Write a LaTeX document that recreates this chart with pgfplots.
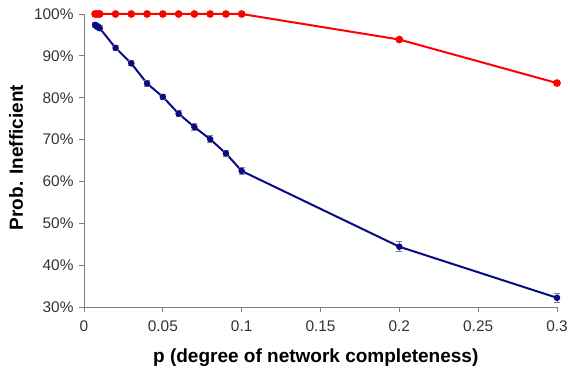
\documentclass[border=0pt]{standalone}
\usepackage{pgfplots}
\pgfplotsset{compat=1.18}
\usepackage{fontspec}
\setmainfont{Liberation Sans}
\definecolor{myred}{RGB}{255,0,0}
\definecolor{myblue}{RGB}{10,10,135}
\definecolor{axgray}{RGB}{128,128,128}
\begin{document}
\begin{tikzpicture}
\begin{axis}[
  scale only axis,
  width=473pt, height=293pt,
  xmin=0, xmax=0.3, ymin=30, ymax=100,
  axis x line*=bottom, axis y line*=left,
  axis line style={axgray, line width=0.9pt, -},
  tick style={axgray, line width=0.9pt},
  tick align=outside,
  major tick length=5pt,
  xtick={0,0.05,0.1,0.15,0.2,0.25,0.3},
  xticklabels={0,0.05,0.1,0.15,0.2,0.25,0.3},
  ytick={30,40,50,60,70,80,90,100},
  yticklabels={30\%,40\%,50\%,60\%,70\%,80\%,90\%,100\%},
  ticklabel style={font=\fontsize{15.4}{17}\selectfont, text=black!80},
  xticklabel style={yshift=-5pt},
  yticklabel style={xshift=-2pt},
  xlabel={\textbf{p (degree of network completeness)}},
  ylabel={\textbf{Prob. Inefficient}},
  label style={font=\fontsize{19}{22}\selectfont},
  xlabel style={at={(axis description cs:0.49,-0.174)}, anchor=center},
  ylabel style={at={(axis description cs:-0.1438,0.51)}, anchor=center},
  clip=false,
]
\addplot[myred, line width=2pt, mark=*, mark size=2.8pt, mark options={solid}]
 coordinates {
 (0.007,100) (0.008,100) (0.009,100) (0.01,100) (0.02,100) (0.03,100) (0.04,100) (0.05,100)
 (0.06,100) (0.07,100) (0.08,100) (0.09,100) (0.1,100) (0.2,93.9) (0.3,83.5)
 };
\addplot[myblue, line width=2pt, mark=*, mark size=2.2pt,
  error bars/.cd, y dir=both, y explicit,
  error bar style={axgray, line width=0.8pt},
  error mark options={axgray, rotate=90, mark size=3pt, line width=0.8pt}]
 table[x=x, y=y, y error=e] {
 x y e
 0.007 97.4 0.6
 0.008 97.1 0.6
 0.009 96.9 0.6
 0.01 96.6 0.6
 0.02 91.9 0.5
 0.03 88.2 0.6
 0.04 83.4 0.7
 0.05 80.2 0.7
 0.06 76.2 0.7
 0.07 73.0 0.8
 0.08 70.1 0.8
 0.09 66.7 0.8
 0.1 62.5 0.8
 0.2 44.4 1.2
 0.3 32.2 1.0
 };
\end{axis}
\pgfresetboundingbox
\path[use as bounding box] ([xshift=-84pt,yshift=-66pt]current axis.south west) rectangle ([xshift=13pt,yshift=14pt]current axis.north east);
\end{tikzpicture}
\end{document}
